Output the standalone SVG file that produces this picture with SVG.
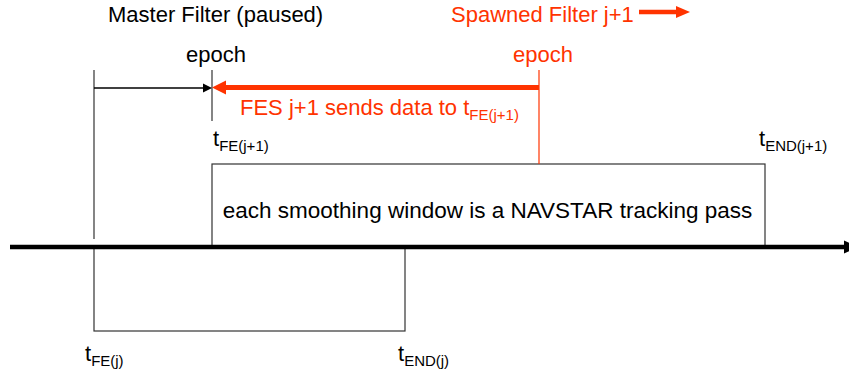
<svg xmlns="http://www.w3.org/2000/svg" width="849" height="373" viewBox="0 0 849 373">
<defs>
<style>
text{font-family:"Liberation Sans",Arial,sans-serif;font-size:22px;fill:#000}
.red{fill:#FF3300}
.sub{font-size:15px}
.thin{stroke:#333;stroke-width:1.2;fill:none}
</style>
</defs>
<rect width="849" height="373" fill="#fff"/>
<g id="titles">
<text x="108" y="22">Master Filter (paused)</text>
<text class="red" x="451" y="22">Spawned Filter j+1</text>
<text x="186" y="62">epoch</text>
<text class="red" x="513" y="62">epoch</text>
</g>
<g id="window-j1">
<rect class="thin" x="212" y="164" width="553" height="83"/>
<text x="487.5" y="218" text-anchor="middle" style="font-size:22.5px">each smoothing window is a NAVSTAR tracking pass</text>
<text x="213" y="146">t<tspan class="sub" dy="5">FE(j+1)</tspan></text>
<text x="759" y="146">t<tspan class="sub" dy="5">END(j+1)</tspan></text>
</g>
<g id="window-j">
<rect class="thin" x="94" y="247" width="311" height="84"/>
<text x="85" y="361">t<tspan class="sub" dy="5">FE(j)</tspan></text>
<text x="398" y="361">t<tspan class="sub" dy="5">END(j)</tspan></text>
</g>
<g id="connectors">
<line class="thin" x1="94" y1="70" x2="94" y2="239"/>
<line class="thin" x1="212" y1="70" x2="212" y2="121"/>
<line x1="539" y1="70" x2="539" y2="164" stroke="#FF3300" stroke-width="1.2"/>
<line x1="94" y1="88" x2="204" y2="88" stroke="#000" stroke-width="1.6"/>
<polygon points="203,83.5 212,88 203,92.5" fill="#000"/>
<line x1="539" y1="87.5" x2="222" y2="87.5" stroke="#FF3300" stroke-width="5"/>
<polygon points="226,80.5 212,87.5 226,94.5" fill="#FF3300"/>
<line x1="639" y1="12" x2="678" y2="12" stroke="#FF3300" stroke-width="4.5"/>
<polygon points="676,6 690,12 676,18" fill="#FF3300"/>
<line x1="10" y1="247" x2="846" y2="247" stroke="#000" stroke-width="4.5"/>
<polygon points="844,240.5 858,247 844,253.5" fill="#000"/>
</g>
<g id="fes-label">
<text class="red" x="240" y="115">FES j+1 sends data to t<tspan class="sub" dy="5">FE(j+1)</tspan></text>
</g>
</svg>
